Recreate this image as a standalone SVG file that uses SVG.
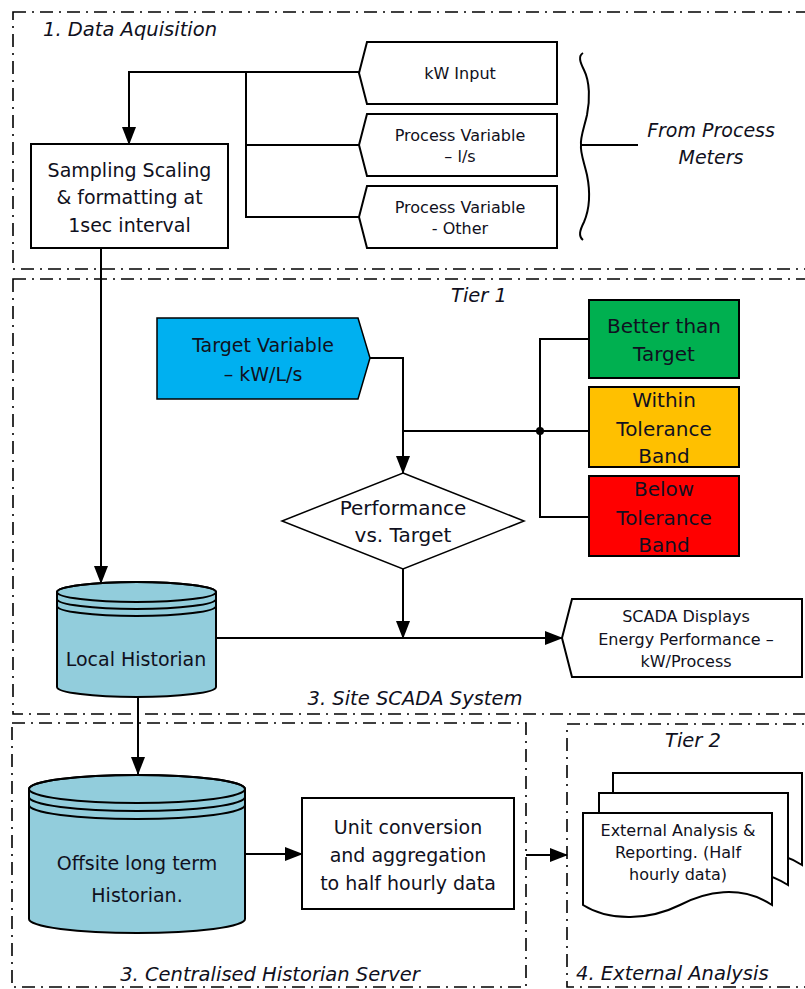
<svg xmlns="http://www.w3.org/2000/svg" width="805" height="989" viewBox="0 0 805 989">
<style>
.bg{fill:#ffffff}
.grp{fill:none;stroke:#000;stroke-width:1.6;stroke-dasharray:13 6 2 6}
.box{fill:#fff;stroke:#000;stroke-width:2}
.con{fill:none;stroke:#000;stroke-width:2}
.arr{marker-end:url(#ah)}
text{font-family:"DejaVu Sans","Liberation Sans",sans-serif;fill:#101020;text-anchor:middle}
.lab{font-style:italic;font-size:19.5px}
.big{font-size:20px}
.mid{font-size:19px}
.sm{font-size:16px}
.cyl{fill:#92CDDC;stroke:#000;stroke-width:2}
</style>
<defs>
<marker id="ah" markerUnits="userSpaceOnUse" markerWidth="18" markerHeight="14" refX="17" refY="7" orient="auto">
<path d="M0,0 L18,7 L0,14 Z" fill="#000"/>
</marker>
<path id="docp" d="M583,813 H772 V905 C740,884 705,892 680,905 C650,920 610,922 583,905 Z"/>
</defs>
<rect class="bg" x="0" y="0" width="805" height="989"/>

<g id="regions">
<rect class="grp" x="13" y="12" width="800" height="257"/>
<rect class="grp" x="13" y="279" width="800" height="435"/>
<rect class="grp" x="12" y="723" width="514" height="264"/>
<rect class="grp" x="567" y="724" width="250" height="263"/>
<text class="lab" x="43" y="36" style="text-anchor:start">1. Data Aquisition</text>
<text class="lab" x="479" y="302">Tier 1</text>
<text class="lab" x="415" y="705">3. Site SCADA System</text>
<text class="lab" x="270" y="981">3. Centralised Historian Server</text>
<text class="lab" x="693" y="747">Tier 2</text>
<text class="lab" x="576" y="980" style="text-anchor:start">4. External Analysis</text>
</g>

<g id="connectors">
<path class="con arr" d="M359,72 H129 V144"/>
<path class="con" d="M246,72 V217 H359"/>
<path class="con" d="M246,145 H359"/>
<path class="con" d="M581,145 H638"/>
<path class="con" d="M583,53 C578,56 580,62 584,70 C590,82 590,100 587,115 C584,128 580,138 581,145 C580,152 584,162 587,175 C590,190 590,208 584,222 C580,230 578,236 583,240"/>
<path class="con arr" d="M101,248 V583"/>
<path class="con arr" d="M370,358 H403 V473"/>
<path class="con" d="M403,431 H589"/>
<path class="con" d="M589,339 H540 V517 H589"/>
<circle cx="540" cy="431" r="4" fill="#000"/>
<path class="con arr" d="M403,569 V638"/>
<path class="con arr" d="M216,638 H562"/>
<path class="con arr" d="M138,697 V774"/>
<path class="con arr" d="M245,854 H302"/>
<path class="con arr" d="M526,855 H567"/>
</g>

<g id="kw-input">
<path class="box" d="M367,42 H557 V104 H367 L359,73 Z"/>
<text class="sm" x="460" y="79">kW Input</text>
</g>
<g id="pv-ls">
<path class="box" d="M367,114 H557 V176 H367 L359,145 Z"/>
<text class="sm" x="460" y="141">Process Variable</text>
<text class="sm" x="460" y="162">– l/s</text>
</g>
<g id="pv-other">
<path class="box" d="M367,186 H557 V248 H367 L359,217 Z"/>
<text class="sm" x="460" y="213">Process Variable</text>
<text class="sm" x="460" y="234">- Other</text>
</g>
<g id="from-meters">
<text class="lab" x="711" y="137" style="font-size:19px">From Process</text>
<text class="lab" x="711" y="164" style="font-size:19px">Meters</text>
</g>
<g id="sampling">
<rect class="box" x="31" y="144" width="197" height="104"/>
<text class="mid" x="129.5" y="177">Sampling Scaling</text>
<text class="mid" x="129.5" y="204">&amp; formatting at</text>
<text class="mid" x="129.5" y="232">1sec interval</text>
</g>

<g id="target-variable">
<path d="M157,318 H358 L370,358 L358,399 H157 Z" fill="#00B0F0" stroke="#000" stroke-width="1.5"/>
<text class="mid" x="263" y="352">Target Variable</text>
<text class="mid" x="263" y="381">– kW/L/s</text>
</g>
<g id="better">
<rect x="589" y="300" width="150" height="78" fill="#00B050" stroke="#000" stroke-width="2"/>
<text class="big" x="664" y="333">Better than</text>
<text class="big" x="664" y="361">Target</text>
</g>
<g id="within">
<rect x="589" y="387" width="150" height="80" fill="#FFC000" stroke="#000" stroke-width="2"/>
<text class="big" x="664" y="407">Within</text>
<text class="big" x="664" y="436">Tolerance</text>
<text class="big" x="664" y="463">Band</text>
</g>
<g id="below">
<rect x="589" y="476" width="150" height="80" fill="#FF0000" stroke="#000" stroke-width="2"/>
<text class="big" x="664" y="496">Below</text>
<text class="big" x="664" y="525">Tolerance</text>
<text class="big" x="664" y="552">Band</text>
</g>
<g id="performance">
<path d="M403,473 L524,521 L403,569 L282,521 Z" fill="#fff" stroke="#000" stroke-width="1.5"/>
<text class="big" x="403" y="515">Performance</text>
<text class="big" x="403" y="542">vs. Target</text>
</g>
<g id="local-historian">
<path class="cyl" d="M57,592 V687 A79.5,10 0 0 0 216,687 V592 A79.5,10 0 0 0 57,592 Z"/>
<ellipse cx="136.5" cy="592" rx="79.5" ry="10" fill="none" stroke="#000" stroke-width="2"/>
<path class="con" d="M57,599 A79.5,10 0 0 0 216,599"/>
<path class="con" d="M57,606 A79.5,10 0 0 0 216,606"/>
<text class="mid" x="136" y="666">Local Historian</text>
</g>
<g id="scada-displays">
<path class="box" d="M572,599 H802 V677 H572 L562,638 Z"/>
<text class="sm" x="686" y="622">SCADA Displays</text>
<text class="sm" x="686" y="645">Energy Performance –</text>
<text class="sm" x="686" y="667">kW/Process</text>
</g>

<g id="offsite-historian">
<path class="cyl" d="M29,789 V919 A108,14 0 0 0 245,919 V789 A108,14 0 0 0 29,789 Z"/>
<ellipse cx="137" cy="789" rx="108" ry="14" fill="none" stroke="#000" stroke-width="2"/>
<path class="con" d="M29,797 A108,14 0 0 0 245,797"/>
<path class="con" d="M29,805 A108,14 0 0 0 245,805"/>
<text class="mid" x="137" y="870">Offsite long term</text>
<text class="mid" x="137" y="902">Historian.</text>
</g>
<g id="unit-conversion">
<rect class="box" x="302" y="798" width="212" height="111"/>
<text class="mid" x="408" y="834">Unit conversion</text>
<text class="mid" x="408" y="862">and aggregation</text>
<text class="mid" x="408" y="890">to half hourly data</text>
</g>
<g id="external-analysis">
<use href="#docp" transform="translate(30,-40)" fill="#fff" stroke="#000" stroke-width="2"/>
<use href="#docp" transform="translate(16,-20)" fill="#fff" stroke="#000" stroke-width="2"/>
<use href="#docp" fill="#fff" stroke="#000" stroke-width="2"/>
<text class="sm" x="678" y="836">External Analysis &amp;</text>
<text class="sm" x="678" y="858">Reporting. (Half</text>
<text class="sm" x="678" y="880">hourly data)</text>
</g>
</svg>
